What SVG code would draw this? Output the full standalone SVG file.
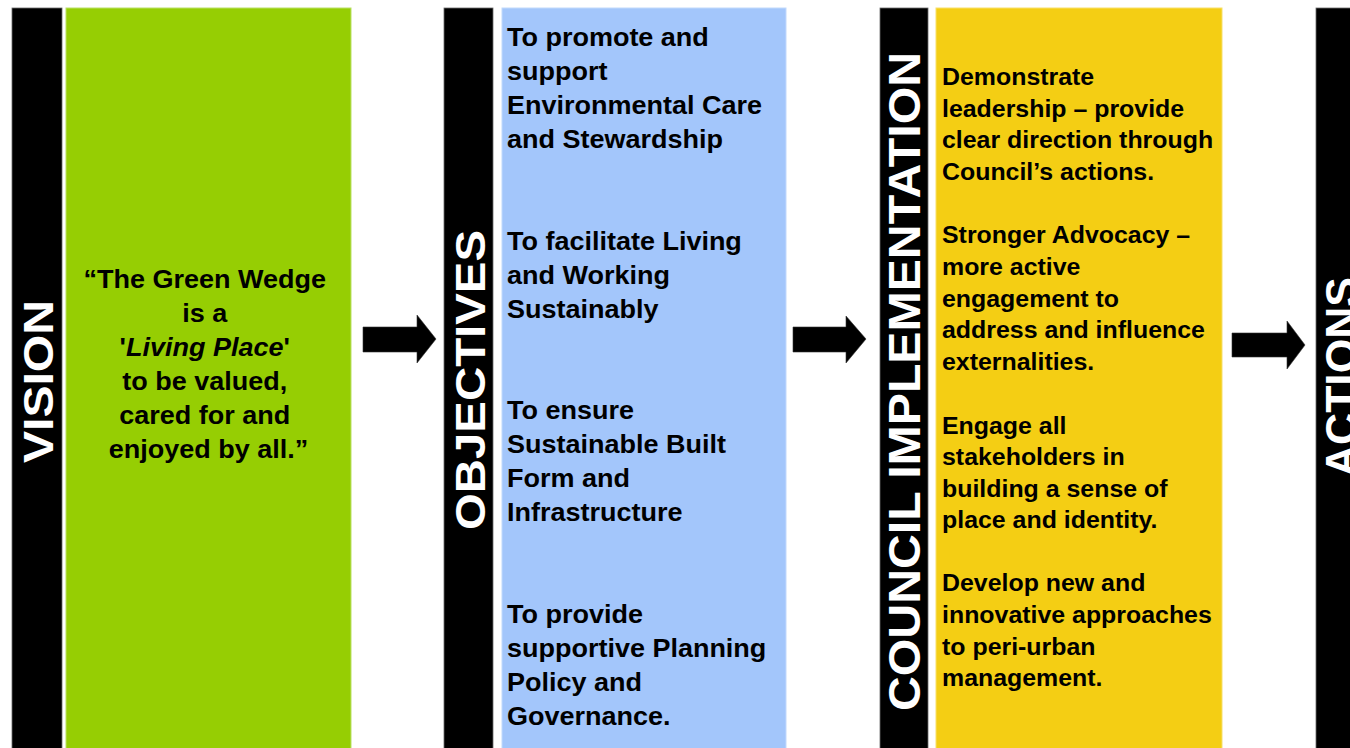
<svg xmlns="http://www.w3.org/2000/svg" width="1350" height="748" viewBox="0 0 1350 748">
  <style>
    .bar { fill: #000; stroke: #6a6a6a; stroke-width: 0.8; }
    .label { font-family: "Liberation Sans", Arial, sans-serif; font-weight: bold; fill: #fff; text-anchor: middle; }
    .body { font-family: "Liberation Sans", Arial, sans-serif; font-weight: bold; fill: #000; }
    .arrow { fill: #000; stroke: #333; stroke-width: 0.6; }
  </style>
  <rect x="0" y="0" width="1350" height="748" fill="#fff"/>

  <!-- Vision -->
  <g id="vision">
    <rect class="bar" x="12" y="8" width="50" height="745"/>
    <text class="label" font-size="43" transform="translate(53,381.5) rotate(-90)" textLength="163" lengthAdjust="spacingAndGlyphs">VISION</text>
    <rect x="66" y="8" width="285" height="745" fill="#96CE03" stroke="#b9e067" stroke-width="1"/>
    <g transform="translate(208.5,0) scale(1.08,1)">
      <text class="body" font-size="25" text-anchor="middle">
        <tspan x="0" y="288">“The Green Wedge</tspan>
        <tspan x="0" y="322">is a</tspan>
        <tspan x="0" y="356">'<tspan font-style="italic">Living Place</tspan>'</tspan>
        <tspan x="0" y="390">to be valued,</tspan>
        <tspan x="0" y="424">cared for and</tspan>
        <tspan x="0" y="458">enjoyed by all.”</tspan>
      </text>
    </g>
  </g>

  <!-- Objectives -->
  <g id="objectives">
    <rect class="bar" x="444" y="8" width="49" height="745"/>
    <text class="label" font-size="43" transform="translate(485,380) rotate(-90)" textLength="300" lengthAdjust="spacingAndGlyphs">OBJECTIVES</text>
    <rect x="502" y="8" width="284" height="745" fill="#A3C6FB" stroke="#c2d9fc" stroke-width="1"/>
    <g transform="translate(507,0) scale(1.08,1)">
      <text class="body" font-size="25">
        <tspan x="0" y="46">To promote and</tspan>
        <tspan x="0" y="80">support</tspan>
        <tspan x="0" y="114">Environmental Care</tspan>
        <tspan x="0" y="148">and Stewardship</tspan>
        <tspan x="0" y="250">To facilitate Living</tspan>
        <tspan x="0" y="284">and Working</tspan>
        <tspan x="0" y="318">Sustainably</tspan>
        <tspan x="0" y="419">To ensure</tspan>
        <tspan x="0" y="453">Sustainable Built</tspan>
        <tspan x="0" y="487">Form and</tspan>
        <tspan x="0" y="521">Infrastructure</tspan>
        <tspan x="0" y="623">To provide</tspan>
        <tspan x="0" y="657">supportive Planning</tspan>
        <tspan x="0" y="691">Policy and</tspan>
        <tspan x="0" y="725">Governance.</tspan>
      </text>
    </g>
  </g>

  <!-- Council implementation -->
  <g id="council">
    <rect class="bar" x="880" y="8" width="48" height="745"/>
    <text class="label" font-size="44" transform="translate(920,381.5) rotate(-90)" textLength="659" lengthAdjust="spacingAndGlyphs">COUNCIL IMPLEMENTATION</text>
    <rect x="936" y="8" width="286" height="745" fill="#F4CE14" stroke="#f7df6a" stroke-width="1"/>
    <g transform="translate(942,0) scale(1.06,1)">
      <text class="body" font-size="23.5">
        <tspan x="0" y="85">Demonstrate</tspan>
        <tspan x="0" y="117">leadership – provide</tspan>
        <tspan x="0" y="148">clear direction through</tspan>
        <tspan x="0" y="180">Council’s actions.</tspan>
        <tspan x="0" y="243">Stronger Advocacy –</tspan>
        <tspan x="0" y="275">more active</tspan>
        <tspan x="0" y="307">engagement to</tspan>
        <tspan x="0" y="338">address and influence</tspan>
        <tspan x="0" y="370">externalities.</tspan>
        <tspan x="0" y="434">Engage all</tspan>
        <tspan x="0" y="465">stakeholders in</tspan>
        <tspan x="0" y="497">building a sense of</tspan>
        <tspan x="0" y="528">place and identity.</tspan>
        <tspan x="0" y="591">Develop new and</tspan>
        <tspan x="0" y="623">innovative approaches</tspan>
        <tspan x="0" y="655">to peri-urban</tspan>
        <tspan x="0" y="686">management.</tspan>
      </text>
    </g>
  </g>

  <!-- Actions -->
  <g id="actions">
    <rect class="bar" x="1316" y="8" width="40" height="745"/>
    <text class="label" font-size="44" transform="translate(1357,377) rotate(-90)" textLength="200" lengthAdjust="spacingAndGlyphs">ACTIONS</text>
  </g>

  <!-- Connectors: block arrows between stages -->
  <g id="connectors">
    <path class="arrow" d="M363,327 H417 V315 L436,339 L417,363 V352 H363 Z"/>
    <path class="arrow" d="M793,327 H846 V316 L866,339 L846,363 V352 H793 Z"/>
    <path class="arrow" d="M1232,333 H1287 V321 L1305,345 L1287,369 V357 H1232 Z"/>
  </g>
</svg>
